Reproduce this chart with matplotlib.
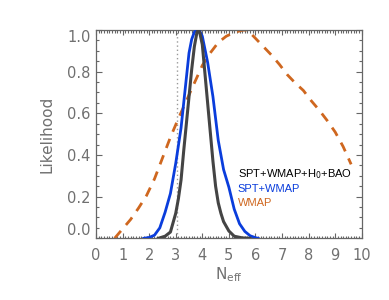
import matplotlib
matplotlib.use("Agg")
import matplotlib.pyplot as plt
from matplotlib.ticker import MultipleLocator

# ---- data ----
wmap_x = [0.7, 1.0, 1.3, 1.6, 1.9, 2.2, 2.5, 2.8, 3.1, 3.4, 3.7, 4.0, 4.3, 4.6,
          4.9, 5.2, 5.5, 5.7, 6.0, 6.3, 6.6, 6.9, 7.2, 7.5, 7.8, 8.1, 8.4, 8.7,
          9.0, 9.3, 9.6]
wmap_y = [0.0, 0.045, 0.09, 0.145, 0.205, 0.285, 0.385, 0.485, 0.575, 0.66,
          0.745, 0.83, 0.89, 0.94, 0.97, 0.988, 0.999, 1.0, 0.96, 0.92, 0.88,
          0.835, 0.785, 0.745, 0.71, 0.66, 0.615, 0.565, 0.51, 0.44, 0.355]

spt_x = [1.8, 2.0, 2.2, 2.4, 2.6, 2.8, 3.0, 3.2, 3.4, 3.5, 3.6, 3.7, 3.8, 3.9,
         4.0, 4.2, 4.4, 4.6, 4.8, 5.0, 5.2, 5.4, 5.6, 5.8, 6.0, 6.1]
spt_y = [0.0, 0.004, 0.015, 0.05, 0.125, 0.215, 0.36, 0.53, 0.77, 0.89, 0.955,
         0.99, 1.0, 0.995, 0.97, 0.845, 0.68, 0.47, 0.33, 0.245, 0.14, 0.07,
         0.033, 0.012, 0.003, 0.0]

all_x = [2.35, 2.6, 2.8, 3.0, 3.1, 3.2, 3.3, 3.4, 3.5, 3.6, 3.7, 3.8, 3.85, 3.9,
         4.0, 4.1, 4.2, 4.3, 4.4, 4.5, 4.6, 4.7, 4.8, 5.0, 5.2, 5.5, 5.8]
all_y = [0.0, 0.01, 0.03, 0.12, 0.19, 0.28, 0.42, 0.55, 0.68, 0.81, 0.92, 0.99,
         1.0, 0.99, 0.93, 0.79, 0.65, 0.51, 0.37, 0.25, 0.17, 0.12, 0.08, 0.035,
         0.01, 0.002, 0.0]

neff_std = 3.046
legend_labels = ["SPT+WMAP+H$_0$+BAO", "SPT+WMAP", "WMAP"]

C_ALL = "#444444"
C_SPT = "#0a3ddc"
C_WMAP = "#cf671f"
GREY = "#666666"

fig = plt.figure(figsize=(3.89, 3.00), dpi=100)
ax = fig.add_axes([0.2468, 0.2057, 0.93 - 0.2468, 0.9 - 0.2057])

ax.axvline(neff_std, color="#999999", lw=1.0, ls=(0, (1, 2)), zorder=1)
ax.plot(wmap_x, wmap_y, color=C_WMAP, lw=2.0, ls=(0, (3.5, 2.8)), zorder=2)
ax.plot(spt_x, spt_y, color=C_SPT, lw=2.0, zorder=3)
ax.plot(all_x, all_y, color=C_ALL, lw=2.2, zorder=4)

ax.set_xlim(0, 10)
ax.set_ylim(0, 1.0)
ax.xaxis.set_major_locator(MultipleLocator(1))
ax.xaxis.set_minor_locator(MultipleLocator(0.1))
ax.yaxis.set_major_locator(MultipleLocator(0.2))
ax.yaxis.set_minor_locator(MultipleLocator(0.05))
ax.set_yticks([0.0, 0.2, 0.4, 0.6, 0.8, 1.0])
ax.set_yticklabels(["0.0", "0.2", "0.4", "0.6", "0.8", "1.0"])

for s in ax.spines.values():
    s.set_color(GREY)
    s.set_linewidth(0.9)

ax.tick_params(axis="both", which="both", direction="in", top=True, right=True,
               color=GREY, labelcolor="#707070", width=0.8)
ax.tick_params(axis="x", which="major", length=3.6, pad=7, labelsize=10.5)
ax.tick_params(axis="x", which="minor", length=1.8)
ax.tick_params(axis="y", which="major", length=4.0, pad=4, labelsize=10.5)
ax.tick_params(axis="y", which="minor", length=2.3)

ylabs = ax.get_yticklabels()
ylabs[0].set_va("bottom")
ylabs[-1].set_va("top")

ax.set_ylabel("Likelihood", fontsize=11, color="#707070", labelpad=9)
ax.set_xlabel("N$_{\\rm eff}$", fontsize=11, color="#707070", labelpad=2)

tx = 5.33
ax.text(tx, 0.293, legend_labels[0], color="black", fontsize=8,
        family="Liberation Sans", va="baseline")
ax.text(tx, 0.224, legend_labels[1], color=C_SPT, fontsize=8,
        family="Liberation Sans", va="baseline")
ax.text(tx, 0.153, legend_labels[2], color=C_WMAP, fontsize=8,
        family="Liberation Sans", va="baseline")

fig.savefig("out.png", dpi=100)
